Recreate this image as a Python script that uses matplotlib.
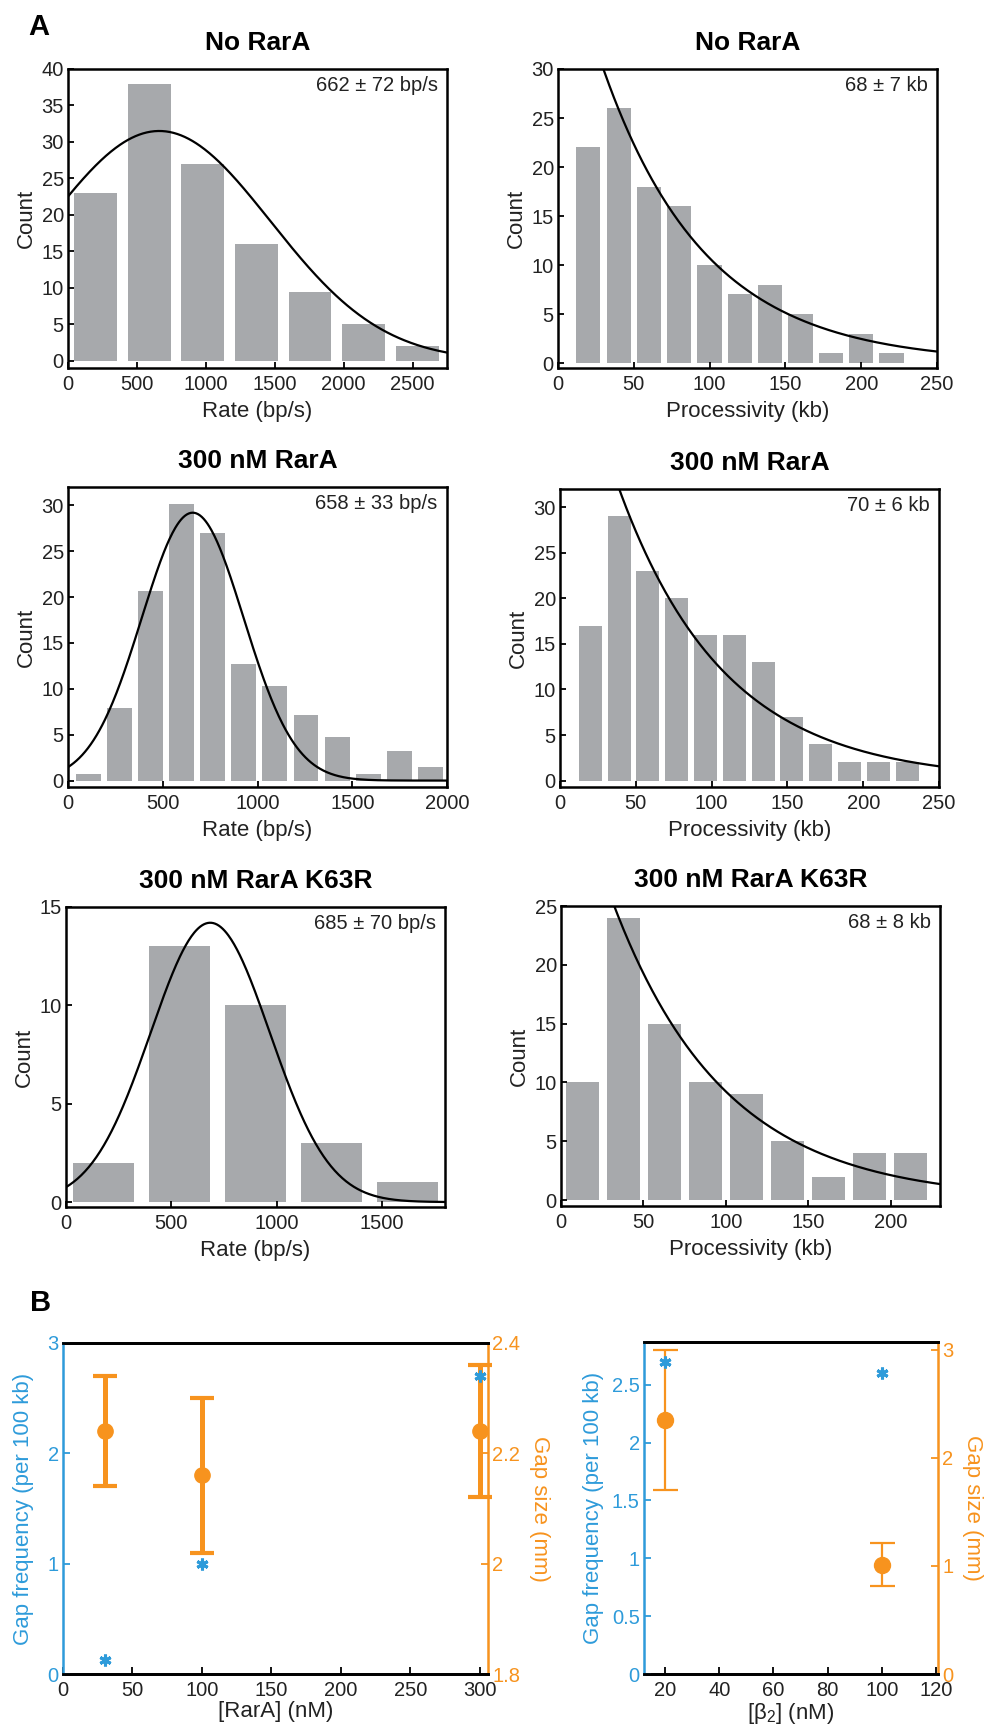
import numpy as np
import matplotlib
matplotlib.use("Agg")
import matplotlib.pyplot as plt
from matplotlib.ticker import FormatStrFormatter

plt.rcParams["font.family"] = ["Liberation Sans", "DejaVu Sans"]
plt.rcParams["mathtext.fontset"] = "custom"
plt.rcParams["mathtext.rm"] = "Liberation Sans"
plt.rcParams["mathtext.it"] = "Liberation Sans"

W, H = 987, 1730
GREY = "#a7a9ac"
BLUE = "#2e9bda"
ORANGE = "#f7931e"
INK = "#222222"

# Histograms: bin centres and counts
rate_none_centers = [200, 589, 978, 1367, 1756, 2144, 2533]
rate_none_counts = [23, 38, 27, 16, 9.4, 5, 2]
proc_none_centers = [20, 40, 60, 80, 100, 120, 140, 160, 180, 200, 220]
proc_none_counts = [22, 26, 18, 16, 10, 7, 8, 5, 1, 3, 1]

rate_300_centers = [106, 270, 435, 599, 763, 928, 1092, 1256, 1420, 1585, 1749, 1913]
rate_300_counts = [0.7, 7.9, 20.7, 30.2, 27.0, 12.7, 10.3, 7.2, 4.7, 0.7, 3.2, 1.5]
proc_300_centers = [20, 39, 58, 77, 96, 115, 134, 153, 172, 191, 210, 229]
proc_300_counts = [17, 29, 23, 20, 16, 16, 13, 7, 4, 2, 2, 2]

rate_k63r_centers = [177, 540, 900, 1260, 1621]
rate_k63r_counts = [2, 13, 10, 3, 1]
proc_k63r_centers = [12.8, 37.7, 62.6, 87.5, 112.4, 137.3, 162.2, 187.1, 212.0]
proc_k63r_counts = [10, 24, 15, 10, 9, 5, 2, 4, 4]

# Fit parameters: gaussian (amp, mean, sd) for rates, exponential (amp, tau) for processivity
rate_fits = [(31.5, 662, 808), (29.2, 658, 269), (14.2, 685, 283)]
proc_fits = [(46.6, 68), (55.9, 70), (40.2, 68)]
rate_labels = ["662 ± 72 bp/s", "658 ± 33 bp/s", "685 ± 70 bp/s"]
proc_labels = ["68 ± 7 kb", "70 ± 6 kb", "68 ± 8 kb"]
titles = ["No RarA", "300 nM RarA", "300 nM RarA K63R"]

# Gap analysis
rara_nM = [30, 100, 300]
gap_freq_rara = [0.13, 1.0, 2.7]
gap_size_rara = [2.24, 2.16, 2.24]
gap_size_rara_err = [0.10, 0.14, 0.12]

beta_nM = [20, 100]
gap_freq_beta = [2.7, 2.6]
gap_size_beta = [2.35, 1.01]
gap_size_beta_err = [0.65, 0.20]


def rect(x0, y0, x1, y1):
    return [x0 / W, 1 - y1 / H, (x1 - x0) / W, (y1 - y0) / H]


def style_box(ax, lw=1.8):
    for s in ax.spines.values():
        s.set_linewidth(lw)
        s.set_color("black")
    ax.tick_params(direction="in", length=4, width=1.3, labelsize=14.5,
                   labelcolor=INK, pad=5)
    ax.tick_params(axis="y", pad=3)


def hist_panel(rc, centers, counts, xlim, ylim, xticks, yticks, xlabel, title, label):
    ax = fig.add_axes(rect(*rc))
    c = np.asarray(centers, float)
    width = 0.8 * np.diff(c).mean()
    ax.bar(c, counts, width=width, color=GREY, edgecolor="none", zorder=1)
    ax.set_xlim(*xlim)
    ax.set_ylim(*ylim)
    ax.set_xticks(xticks)
    ax.set_yticks(yticks)
    style_box(ax)
    ax.set_xlabel(xlabel, fontsize=16, color=INK)
    ax.set_ylabel("Count", fontsize=16, color=INK)
    ax.xaxis.set_label_coords(0.5, -0.11)
    ax.yaxis.set_label_coords(-0.082, 0.5)
    ax.set_title(title, fontsize=19, fontweight="bold", pad=14)
    ax.text(0.975, 0.946, label, transform=ax.transAxes, ha="right", va="center",
            fontsize=14.5, color=INK)
    return ax


fig = plt.figure(figsize=(W / 100, H / 100), dpi=100)

left_rects = [(68, 69, 447, 368), (68, 487, 447, 787), (66, 907, 445, 1207)]
right_rects = [(558, 69, 937, 368), (560, 489, 939, 787), (561, 906, 940, 1206)]

rate_sets = [
    (rate_none_centers, rate_none_counts, (0, 2750), (-1, 40), range(0, 2501, 500), range(0, 41, 5)),
    (rate_300_centers, rate_300_counts, (0, 2000), (-0.7, 32), range(0, 2001, 500), range(0, 31, 5)),
    (rate_k63r_centers, rate_k63r_counts, (0, 1800), (-0.25, 15), range(0, 1501, 500), range(0, 16, 5)),
]
proc_sets = [
    (proc_none_centers, proc_none_counts, (0, 250), (-0.5, 30), range(0, 251, 50), range(0, 31, 5)),
    (proc_300_centers, proc_300_counts, (0, 250), (-0.7, 32), range(0, 251, 50), range(0, 31, 5)),
    (proc_k63r_centers, proc_k63r_counts, (0, 230), (-0.5, 25), range(0, 201, 50), range(0, 26, 5)),
]

for i in range(3):
    cen, cnt, xl, yl, xt, yt = rate_sets[i]
    ax = hist_panel(left_rects[i], cen, cnt, xl, yl, xt, yt, "Rate (bp/s)", titles[i], rate_labels[i])
    amp, mu, sd = rate_fits[i]
    x = np.linspace(xl[0], xl[1], 400)
    ax.plot(x, amp * np.exp(-(x - mu) ** 2 / (2 * sd ** 2)), color="black", lw=1.6, zorder=3)

    cen, cnt, xl, yl, xt, yt = proc_sets[i]
    ax = hist_panel(right_rects[i], cen, cnt, xl, yl, xt, yt, "Processivity (kb)", titles[i], proc_labels[i])
    amp, tau = proc_fits[i]
    x = np.linspace(xl[0], xl[1], 400)
    ax.plot(x, amp * np.exp(-x / tau), color="black", lw=1.6, zorder=3)

fig.text(28 / W, 1 - 27 / H, "A", fontsize=21, fontweight="bold", va="center", ha="left")
fig.text(30 / W, 1 - 1303 / H, "B", fontsize=21, fontweight="bold", va="center", ha="left")


def gap_panel(rc, xs, freq, size, err, xlim, ylim_l, ylim_r, xticks, yticks_l, yticks_r,
              xlabel, elw, cap, cthick, msize, lcoords, rcoords):
    ax = fig.add_axes(rect(*rc))
    ax2 = ax.twinx()
    ax.set_zorder(ax2.get_zorder() + 1)
    ax.patch.set_visible(False)

    ax2.errorbar(xs, size, yerr=err, fmt="o", color=ORANGE, ecolor=ORANGE, elinewidth=elw,
                 capsize=cap, capthick=cthick, markersize=msize, clip_on=False)
    ax.plot(xs, freq, linestyle="none", marker=(6, 2, 0), markersize=8.5, mew=2.2,
            color=BLUE, clip_on=False)

    ax.set_xlim(*xlim)
    ax.set_ylim(*ylim_l)
    ax2.set_ylim(*ylim_r)
    ax.set_xticks(xticks)
    ax.set_yticks(yticks_l)
    ax2.set_yticks(yticks_r)
    ax.yaxis.set_major_formatter(FormatStrFormatter("%g"))
    ax2.yaxis.set_major_formatter(FormatStrFormatter("%g"))

    for a in (ax, ax2):
        a.spines["top"].set_color("black")
        a.spines["bottom"].set_color("black")
        a.spines["top"].set_linewidth(2)
        a.spines["bottom"].set_linewidth(2)
    ax.spines["left"].set_color(BLUE)
    ax.spines["left"].set_linewidth(1.8)
    ax.spines["right"].set_visible(False)
    ax2.spines["left"].set_visible(False)
    ax2.spines["right"].set_color(ORANGE)
    ax2.spines["right"].set_linewidth(1.8)

    ax.tick_params(axis="x", direction="in", length=5, width=1.3, labelsize=14.5,
                   labelcolor=INK, pad=5)
    ax.tick_params(axis="y", direction="in", length=5, width=1.3, labelsize=14.5,
                   colors=BLUE, pad=3)
    ax2.tick_params(axis="y", direction="in", length=5, width=1.3, labelsize=14.5,
                    colors=ORANGE, pad=3)

    ax.set_xlabel(xlabel, fontsize=16, color=INK)
    ax.xaxis.set_label_coords(0.5, -0.082)
    ax.set_ylabel("Gap frequency (per 100 kb)", fontsize=16, color=BLUE)
    ax.yaxis.set_label_coords(*lcoords)
    ax2.set_ylabel("Gap size (mm)", fontsize=16, color=ORANGE, rotation=270, va="center")
    ax2.yaxis.set_label_coords(*rcoords)
    return ax, ax2


gap_panel((63, 1343, 488, 1674), rara_nM, gap_freq_rara, gap_size_rara, gap_size_rara_err,
          (0, 306), (0, 3), (1.8, 2.4), range(0, 301, 50), [0, 1, 2, 3], [1.8, 2.0, 2.2, 2.4],
          "[RarA] (nM)", 3.6, 8.5, 3, 11, (-0.068, 0.5), (1.122, 0.5))

gap_panel((644, 1342, 938, 1674), beta_nM, gap_freq_beta, gap_size_beta, gap_size_beta_err,
          (12.3, 120.6), (0, 2.87), (0, 3.07), range(20, 121, 20), [0, 0.5, 1, 1.5, 2, 2.5],
          [0, 1, 2, 3], "[β$_2$] (nM)", 1.6, 9, 1.6, 11.5, (-0.136, 0.5), (1.119, 0.5))

fig.savefig("out.png", dpi=100, facecolor="white")
